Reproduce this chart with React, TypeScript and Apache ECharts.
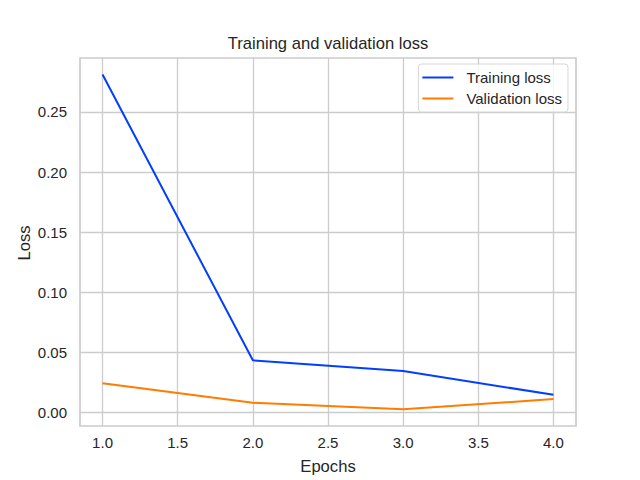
import React, { useEffect, useRef } from "react";
import * as echarts from "echarts";

const epochs = [1, 2, 3, 4];
const trainingLoss = [0.2812, 0.0435, 0.0347, 0.0148];
const validationLoss = [0.0245, 0.0082, 0.0028, 0.0113];
const xTicks = [1.0, 1.5, 2.0, 2.5, 3.0, 3.5, 4.0];
const yTicks = [0.0, 0.05, 0.1, 0.15, 0.2, 0.25];

const FONT = "Liberation Sans";
const TXT = "#262626";
const GRIDC = "#cccccc";

export default function App() {
  const ref = useRef<HTMLDivElement>(null);
  useEffect(() => {
    if (!ref.current) return;
    const chart = echarts.init(ref.current, null, { renderer: "svg" });
    chart.setOption({
      animation: false,
      backgroundColor: "#ffffff",
      textStyle: { fontFamily: FONT },
      grid: {
        left: 80,
        right: 64,
        top: 58,
        bottom: 54,
        show: true,
        borderColor: GRIDC,
        borderWidth: 1.7,
        backgroundColor: "#ffffff",
      },
      graphic: [
        {
          type: "text",
          x: 328,
          y: 43,
          style: {
            text: "Training and validation loss",
            fontFamily: FONT,
            fontSize: 16.6,
            fill: TXT,
            textAlign: "center",
            textVerticalAlign: "middle",
          },
        },
        {
          type: "text",
          x: 328,
          y: 466,
          style: {
            text: "Epochs",
            fontFamily: FONT,
            fontSize: 16.6,
            fill: TXT,
            textAlign: "center",
            textVerticalAlign: "middle",
          },
        },
        {
          type: "text",
          x: 24,
          y: 243,
          rotation: Math.PI / 2,
          style: {
            text: "Loss",
            fontFamily: FONT,
            fontSize: 16.6,
            fill: TXT,
            textAlign: "center",
            textVerticalAlign: "middle",
          },
        },
      ],
      legend: {
        right: 72,
        top: 64,
        orient: "vertical",
        icon: "rect",
        itemWidth: 31,
        itemHeight: 2,
        itemGap: 6,
        padding: [6, 6, 6, 4],
        backgroundColor: "rgba(255,255,255,0.8)",
        borderColor: "#d6d6d6",
        borderWidth: 1,
        borderRadius: 3,
        textStyle: { fontFamily: FONT, fontSize: 15, color: TXT, padding: [0, 0, 0, 8] },
        data: ["Training loss", "Validation loss"],
      },
      xAxis: {
        type: "value",
        min: 0.85,
        max: 4.15,
        axisLine: { show: false },
        axisTick: { show: false, customValues: xTicks },
        axisLabel: {
          customValues: xTicks,
          formatter: (v: number) => v.toFixed(1),
          fontFamily: FONT,
          fontSize: 15,
          color: TXT,
          margin: 9,
        },
        splitLine: { show: true, lineStyle: { color: GRIDC, width: 1.3 } },
      },
      yAxis: {
        type: "value",
        min: -0.0111,
        max: 0.2949,
        axisLine: { show: false },
        axisTick: { show: false, customValues: yTicks },
        axisLabel: {
          customValues: yTicks,
          formatter: (v: number) => v.toFixed(2),
          fontFamily: FONT,
          fontSize: 15,
          color: TXT,
          margin: 13,
        },
        splitLine: { show: true, lineStyle: { color: GRIDC, width: 1.3 } },
      },
      series: [
        {
          name: "Training loss",
          type: "line",
          data: epochs.map((e, i) => [e, trainingLoss[i]]),
          symbol: "none",
          lineStyle: { color: "#023eff", width: 2 },
          itemStyle: { color: "#023eff" },
        },
        {
          name: "Validation loss",
          type: "line",
          data: epochs.map((e, i) => [e, validationLoss[i]]),
          symbol: "none",
          lineStyle: { color: "#ff7c00", width: 2 },
          itemStyle: { color: "#ff7c00" },
        },
      ],
    });
    return () => chart.dispose();
  }, []);
  return (
    <div
      ref={ref}
      style={{ position: "absolute", left: 0, top: 0, width: 640, height: 480 }}
    />
  );
}
